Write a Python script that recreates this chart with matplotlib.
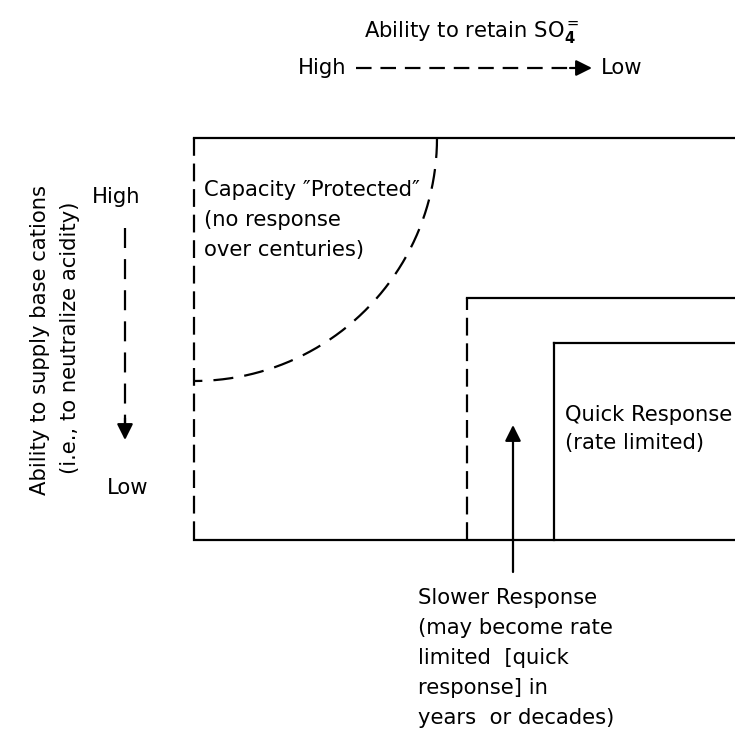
import numpy as np
import matplotlib
matplotlib.use("Agg")
import matplotlib.pyplot as plt
from matplotlib.patches import FancyArrowPatch

plt.rcParams['font.family'] = ['DejaVu Sans']
plt.rcParams['mathtext.fontset'] = 'dejavusans'

# ---- diagram geometry (pixel-like coordinates, y downwards) ----
outer_box = [194, 138, 735, 540]          # left, top, right, bottom
slower_box = [467, 298]                   # left, top
quick_box = [554, 343]                    # left, top
protected_arc = [194, 138, 243, 243]      # centre x, centre y, radius x, radius y
slower_arrow = [513, 572, 425]            # x, y start, y tip

# ---- labels ----
top_title = r'Ability to retain SO$_\mathbf{4}^{=}$'
top_scale = ['High', 'Low']
left_title = ['Ability to supply base cations', '(i.e., to neutralize acidity)']
left_scale = ['High', 'Low']
protected_text = ['Capacity \u2033Protected\u2033', '(no response', 'over centuries)']
quick_text = ['Quick Response', '(rate limited)']
slower_text = ['Slower Response', '(may become rate', 'limited  [quick',
               'response] in', 'years  or decades)']

W, H = 735, 731
fig = plt.figure(figsize=(W / 100, H / 100), dpi=100)
ax = fig.add_axes([0, 0, 1, 1])
ax.set_xlim(0, W)
ax.set_ylim(H, 0)
ax.axis('off')

lw = 1.6
dash = (0, (8, 3.5))
fs = 15.2

L, T, R, B = outer_box
# outer region
ax.plot([L, R], [T, T], color='k', lw=lw)
ax.plot([L, R], [B, B], color='k', lw=lw)
ax.plot([L, L], [T, B], color='k', lw=lw, linestyle=dash)

# protected arc
cx, cy, rx, ry = protected_arc
th = np.linspace(0, np.pi / 2, 200)
ax.plot(cx + rx * np.cos(th), cy + ry * np.sin(th), color='k', lw=lw,
        linestyle=(0, (9, 5)))

# slower box
sl, st = slower_box
ax.plot([sl, sl], [B, st], color='k', lw=lw, linestyle=dash)
ax.plot([sl, R], [st, st], color='k', lw=lw)

# quick box
ql, qt = quick_box
ax.plot([ql, ql], [B, qt], color='k', lw=lw)
ax.plot([ql, R], [qt, qt], color='k', lw=lw)

# slower arrow
axx, ay0, ay1 = slower_arrow
ax.add_patch(FancyArrowPatch((axx, ay0), (axx, ay1), arrowstyle='-|>',
                             mutation_scale=24, color='k', lw=lw,
                             shrinkA=0, shrinkB=0))

# top scale
ax.text(472, 32, top_title, fontsize=fs, ha='center', va='center')
ax.text(322, 68, top_scale[0], fontsize=fs, ha='center', va='center')
ax.text(622, 68, top_scale[1], fontsize=fs, ha='center', va='center')
ax.plot([356, 578], [68, 68], color='k', lw=lw, linestyle=(0, (7, 4)))
ax.add_patch(FancyArrowPatch((570, 68), (592, 68), arrowstyle='-|>',
                             mutation_scale=24, color='k', lw=lw,
                             shrinkA=0, shrinkB=0))

# left scale
ax.text(40, 340, left_title[0], fontsize=fs, ha='center', va='center', rotation=90)
ax.text(70, 338, left_title[1], fontsize=fs, ha='center', va='center', rotation=90)
ax.text(116, 197, left_scale[0], fontsize=fs, ha='center', va='center')
ax.text(128, 488, left_scale[1], fontsize=fs, ha='center', va='center')
ax.plot([125, 125], [228, 425], color='k', lw=lw, linestyle=(0, (9, 5)))
ax.add_patch(FancyArrowPatch((125, 418), (125, 440), arrowstyle='-|>',
                             mutation_scale=24, color='k', lw=lw,
                             shrinkA=0, shrinkB=0))

# region texts
for i, s in enumerate(protected_text):
    ax.text(204, 190 + 30 * i, s, fontsize=fs, ha='left', va='center')
for i, s in enumerate(quick_text):
    ax.text(565, 415 + 28 * i, s, fontsize=fs, ha='left', va='center')
for i, s in enumerate(slower_text):
    ax.text(418, 598 + 30 * i, s, fontsize=fs, ha='left', va='center')

fig.savefig('out.png', dpi=100)
